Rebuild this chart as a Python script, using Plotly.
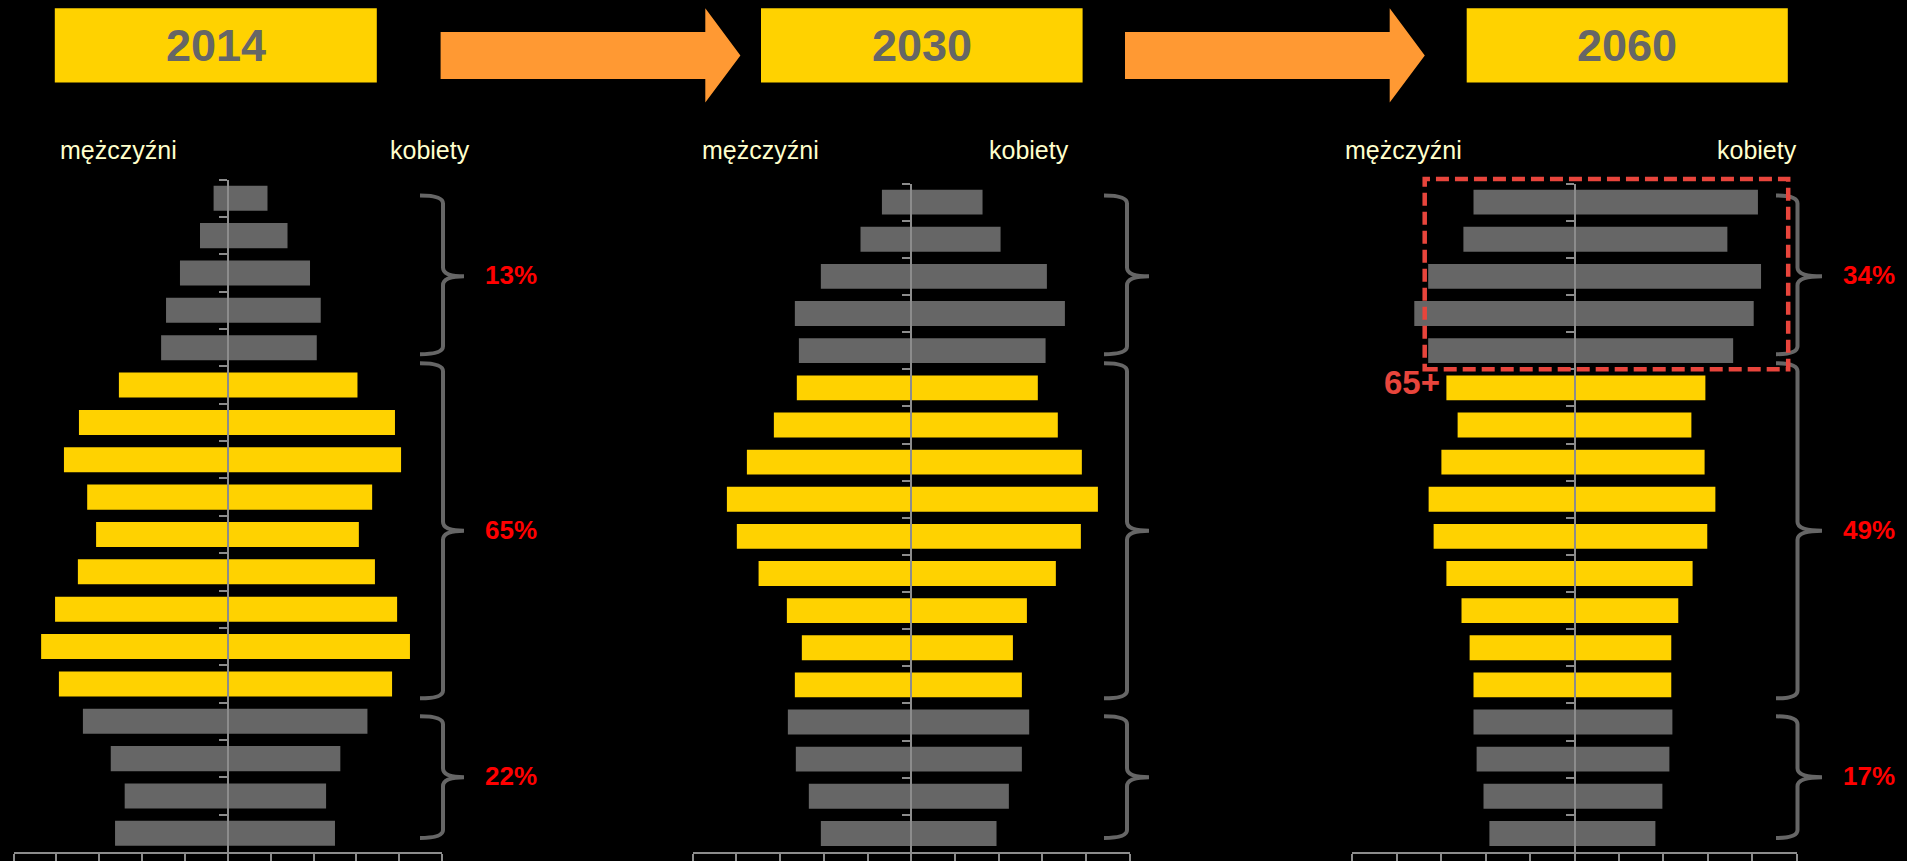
import plotly.graph_objects as go

# ---------------- data (thousands of persons) ----------------
ages = ["85+", "80-84", "75-79", "70-74", "65-69", "60-64", "55-59", "50-54", "45-49",
        "40-44", "35-39", "30-34", "25-29", "20-24", "15-19", "10-14", "5-9", "0-4"]
years = ["2014", "2030", "2060"]

men_2014 = [133, 260, 447, 577, 623, 1017, 1390, 1530, 1313, 1230, 1400, 1613, 1743, 1577, 1353, 1093, 963, 1053]
women_2014 = [370, 557, 767, 867, 830, 1210, 1560, 1617, 1347, 1223, 1373, 1580, 1700, 1533, 1303, 1050, 917, 1000]

men_2030 = [268, 464, 827, 1065, 1028, 1047, 1257, 1504, 1687, 1596, 1397, 1138, 1001, 1065, 1129, 1056, 937, 827]
women_2030 = [653, 818, 1242, 1407, 1230, 1159, 1342, 1562, 1709, 1553, 1324, 1059, 931, 1013, 1080, 1013, 894, 781]

men_2060 = [909, 1000, 1317, 1442, 1317, 1153, 1052, 1198, 1313, 1268, 1153, 1017, 944, 909, 909, 881, 819, 766]
women_2060 = [1651, 1376, 1679, 1613, 1428, 1178, 1052, 1171, 1268, 1195, 1063, 934, 871, 871, 881, 854, 791, 728]

# share of age groups: 65+, 20-64, 0-19
shares_2014 = ["13%", "65%", "22%"]
shares_2060 = ["34%", "49%", "17%"]
n_old, n_work, n_young = 5, 9, 4

label_men = "mężczyźni"
label_women = "kobiety"
label_old = "65+"

# ---------------- styling ----------------
W, H = 1907, 861
GRAY = "#666666"
YELLOW = "#FFD200"
ORANGE = "#FF9933"
CREAM = "#FFFFCC"
RED = "#FF0000"
RED2 = "#E8453C"
AXIS = "#8c8c8c"
FONT = "Liberation Sans, Arial, sans-serif"


def X(x):
    return x / W


def Y(y):
    return 1 - y / H


colors = [GRAY] * n_old + [YELLOW] * n_work + [GRAY] * n_young

panels = [
    dict(year="2014", men=men_2014, women=women_2014, xd=(13.6, 442.1), yd=(180, 854)),
    dict(year="2030", men=men_2030, women=women_2030, xd=(692.7, 1129.7), yd=(184, 854)),
    dict(year="2060", men=men_2060, women=women_2060, xd=(1352.3, 1796.7), yd=(184, 854)),
]

fig = go.Figure()
layout = {}
for i, p in enumerate(panels):
    sfx = "" if i == 0 else str(i + 1)
    fig.add_trace(go.Bar(y=ages, x=[-v for v in p["men"]], orientation="h",
                         marker=dict(color=colors, line=dict(width=0)),
                         xaxis="x" + sfx, yaxis="y" + sfx, showlegend=False,
                         name=label_men + " " + p["year"]))
    fig.add_trace(go.Bar(y=ages, x=p["women"], orientation="h",
                         marker=dict(color=colors, line=dict(width=0)),
                         xaxis="x" + sfx, yaxis="y" + sfx, showlegend=False,
                         name=label_women + " " + p["year"]))
    x0, x1 = p["xd"]
    y0, y1 = p["yd"]
    layout["xaxis" + sfx] = dict(
        domain=[X(x0), X(x1)], range=[-2000, 2000], tickmode="linear", tick0=0, dtick=400,
        showticklabels=False, ticks="outside", ticklen=9, tickwidth=1.5, tickcolor=AXIS,
        showline=True, linecolor=AXIS, linewidth=1.5, showgrid=False, zeroline=False,
        anchor="y" + sfx, fixedrange=True)
    layout["yaxis" + sfx] = dict(
        domain=[Y(y1), Y(y0)], type="category", autorange="reversed",
        anchor="free", position=X((x0 + x1) / 2),
        showline=True, linecolor=AXIS, linewidth=1.5, ticks="outside", tickson="boundaries",
        ticklen=8, tickwidth=1.5, tickcolor=AXIS, showticklabels=False, showgrid=False,
        zeroline=False, fixedrange=True)

shapes = []
annotations = []

# year header boxes
boxes = [(54.8, 376.8), (761.0, 1082.6), (1466.7, 1787.8)]
for (bx0, bx1), yr in zip(boxes, years):
    shapes.append(dict(type="rect", xref="paper", yref="paper", x0=X(bx0), x1=X(bx1),
                       y0=Y(82.7), y1=Y(8.3), fillcolor=YELLOW, line=dict(width=0), layer="below"))
    annotations.append(dict(text="<b>" + yr + "</b>", xref="paper", yref="paper",
                            x=X((bx0 + bx1) / 2), y=Y(46), xanchor="center", yanchor="middle",
                            showarrow=False, font=dict(family=FONT, size=45, color=GRAY)))

# arrows between headers
for ax0 in (440.6, 1125.0):
    xs, xh, xt = ax0, ax0 + 264.7, ax0 + 299.8
    path = (f"M {X(xs)},{Y(32)} L {X(xh)},{Y(32)} L {X(xh)},{Y(8.3)} L {X(xt)},{Y(55.6)} "
            f"L {X(xh)},{Y(102.7)} L {X(xh)},{Y(79.3)} L {X(xs)},{Y(79.3)} Z")
    shapes.append(dict(type="path", xref="paper", yref="paper", path=path,
                       fillcolor=ORANGE, line=dict(width=0)))

# men / women labels
label_pos = [(58, 388), (700.4, 987.3), (1342.6, 1715)]
for lm, lw in label_pos:
    for txt, lx in ((label_men, lm), (label_women, lw)):
        annotations.append(dict(text=txt, xref="paper", yref="paper", x=X(lx), y=Y(150),
                                xanchor="left", yanchor="middle", showarrow=False,
                                font=dict(family=FONT, size=25, color=CREAM)))


# curly braces
def brace(x0, xs, xp, ytop, ymid, ybot, r=8, rm=9):
    return (f"M {X(x0)},{Y(ytop)} Q {X(xs)},{Y(ytop)} {X(xs)},{Y(ytop + r)} "
            f"L {X(xs)},{Y(ymid - rm)} Q {X(xs)},{Y(ymid)} {X(xp)},{Y(ymid)} "
            f"Q {X(xs)},{Y(ymid)} {X(xs)},{Y(ymid + rm)} "
            f"L {X(xs)},{Y(ybot - r)} Q {X(xs)},{Y(ybot)} {X(x0)},{Y(ybot)}")


brace_x = [(420, 443, 464), (1104, 1127, 1149), (1776, 1797.5, 1822)]
brace_y = [(196, 277, 355), (364, 532, 700), (718, 779, 840)]
for bx in brace_x:
    for by in brace_y:
        shapes.append(dict(type="path", xref="paper", yref="paper",
                           path=brace(bx[0], bx[1], bx[2], by[0], by[1], by[2]),
                           line=dict(color=GRAY, width=4)))

# percentage labels
for cx, shares in ((510.5, shares_2014), (1869, shares_2060)):
    for (_, ym, _), s in zip(brace_y, shares):
        annotations.append(dict(text="<b>" + s + "</b>", xref="paper", yref="paper",
                                x=X(cx), y=Y(ym - 1), xanchor="center", yanchor="middle",
                                showarrow=False, font=dict(family=FONT, size=26, color=RED)))

# dashed highlight of 65+ in 2060
shapes.append(dict(type="rect", xref="paper", yref="paper", x0=X(1424.7), x1=X(1788.2),
                   y0=Y(370), y1=Y(179.3), line=dict(color=RED2, width=4.5, dash="13px,6px"),
                   fillcolor="rgba(0,0,0,0)", layer="above"))
annotations.append(dict(text="<b>" + label_old + "</b>", xref="paper", yref="paper",
                        x=X(1412), y=Y(383), xanchor="center", yanchor="middle", showarrow=False,
                        font=dict(family=FONT, size=33, color=RED2)))

fig.update_layout(
    width=W, height=H, autosize=False,
    margin=dict(l=0, r=0, t=0, b=0, pad=0),
    paper_bgcolor="black", plot_bgcolor="black",
    barmode="relative", bargap=0.33,
    shapes=shapes, annotations=annotations,
    showlegend=False,
    **layout,
)

fig.write_html("out.html", config={"displayModeBar": False})
